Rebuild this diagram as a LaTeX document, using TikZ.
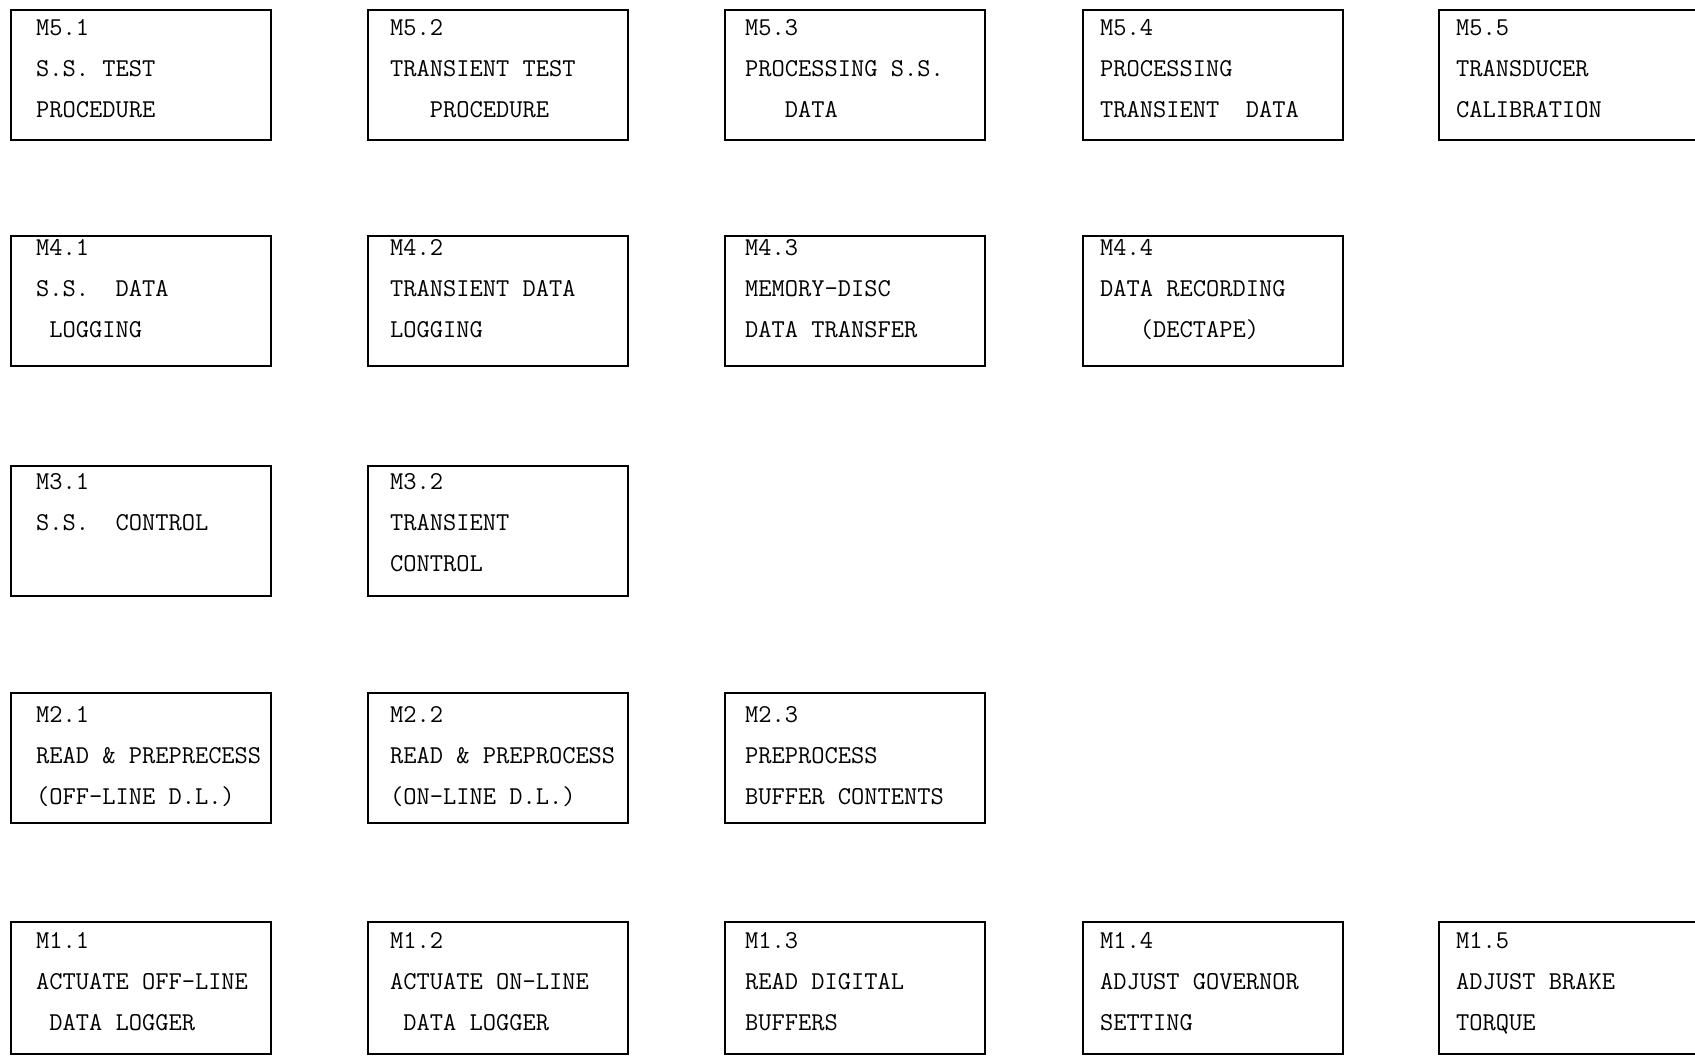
\documentclass[tikz,border=0pt]{standalone}
\usepackage{fontspec}
\tikzset{
  boxst/.style={draw=black, line width=1.6pt, rectangle, inner sep=0pt, anchor=north west,
    minimum width=260pt, minimum height=130pt},
  tallbox/.style={minimum height=132pt},
  txt/.style={anchor=base west, inner sep=0pt, font=\ttfamily\fontsize{25.7}{30}\selectfont, text=black}
}
% #1 extra box style, #2 name, #3 box left, #4 box top, #5 text x, #6 label baseline offset, #7 label, #8 line2, #9 line3
\newcommand\tbox[9]{%
  \node[boxst,#1] (#2) at (#3,#4) {};
  \node[txt] (#2-a) at (#5,#4+#6) {#7};
  \node[txt] (#2-b) at (#5,#4+#6+41) {#8};
  \node[txt] (#2-c) at (#5,#4+#6+82) {#9};
}
\begin{document}
\begin{tikzpicture}[x=1pt,y=-1pt]
\clip (0,0) rectangle (1695,1056);
\fill[white] (0,0) rectangle (1695,1056);
% row 1
\tbox{}{m51}{10}{9}{36}{27}{M5.1}{S.S. TEST}{PROCEDURE}
\tbox{}{m52}{367}{9}{390}{27}{M5.2}{TRANSIENT TEST}{~~~PROCEDURE}
\tbox{}{m53}{724}{9}{745}{27}{M5.3}{PROCESSING S.S.}{~~~DATA}
\tbox{}{m54}{1082}{9}{1100}{27}{M5.4}{PROCESSING}{TRANSIENT~~DATA}
\tbox{}{m55}{1438}{9}{1456}{27}{M5.5}{TRANSDUCER}{CALIBRATION}
% row 2
\tbox{}{m41}{10}{235}{36}{21}{M4.1}{S.S.~~DATA}{~LOGGING}
\tbox{}{m42}{367}{235}{390}{21}{M4.2}{TRANSIENT DATA}{LOGGING}
\tbox{}{m43}{724}{235}{745}{21}{M4.3}{MEMORY-DISC}{DATA TRANSFER}
\tbox{}{m44}{1082}{235}{1100}{21}{M4.4}{DATA RECORDING}{~~~(DECTAPE)}
% row 3
\tbox{}{m31}{10}{465}{36}{24}{M3.1}{S.S.~~CONTROL}{}
\tbox{}{m32}{367}{465}{390}{24}{M3.2}{TRANSIENT}{CONTROL}
% row 4
\tbox{}{m21}{10}{692}{36}{30}{M2.1}{READ \& PREPRECESS}{(OFF-LINE D.L.)}
\tbox{}{m22}{367}{692}{390}{30}{M2.2}{READ \& PREPROCESS}{(ON-LINE D.L.)}
\tbox{}{m23}{724}{692}{745}{30}{M2.3}{PREPROCESS}{BUFFER CONTENTS}
% row 5
\tbox{tallbox}{m11}{10}{921}{36}{27}{M1.1}{ACTUATE OFF-LINE}{~DATA LOGGER}
\tbox{tallbox}{m12}{367}{921}{390}{27}{M1.2}{ACTUATE ON-LINE}{~DATA LOGGER}
\tbox{tallbox}{m13}{724}{921}{745}{27}{M1.3}{READ DIGITAL}{BUFFERS}
\tbox{tallbox}{m14}{1082}{921}{1100}{27}{M1.4}{ADJUST GOVERNOR}{SETTING}
\tbox{tallbox}{m15}{1438}{921}{1456}{27}{M1.5}{ADJUST BRAKE}{TORQUE}
\end{tikzpicture}
\end{document}
